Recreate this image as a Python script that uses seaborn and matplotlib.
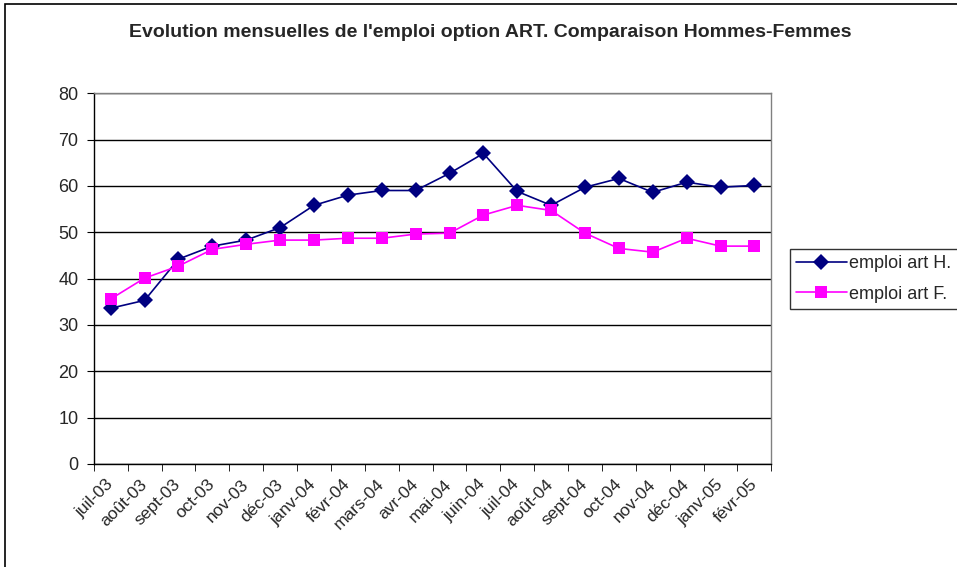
import matplotlib
matplotlib.use("Agg")
import matplotlib.pyplot as plt
import matplotlib.transforms as mtransforms
import seaborn as sns
import pandas as pd
from matplotlib.patches import Rectangle

# Monthly values
months = ['juil-03', 'août-03', 'sept-03', 'oct-03', 'nov-03', 'déc-03',
          'janv-04', 'févr-04', 'mars-04', 'avr-04', 'mai-04', 'juin-04',
          'juil-04', 'août-04', 'sept-04', 'oct-04', 'nov-04', 'déc-04',
          'janv-05', 'févr-05']
hommes = [33.6, 35.3, 44.2, 47.0, 48.3, 51.0, 55.8, 58.0, 59.0, 59.0,
          62.7, 67.0, 58.8, 55.8, 59.7, 61.6, 58.6, 60.8, 59.7, 60.1]
femmes = [35.6, 40.1, 42.7, 46.3, 47.4, 48.3, 48.3, 48.7, 48.7, 49.6,
          49.8, 53.7, 55.8, 54.7, 49.8, 46.5, 45.7, 48.7, 47.0, 47.0]
series_names = ['emploi art H.', 'emploi art F.']

df = pd.DataFrame({'mois': months, series_names[0]: hommes, series_names[1]: femmes})
df['pos'] = range(len(months))
long = df.melt(id_vars=['mois', 'pos'], var_name='serie', value_name='valeur')

sns.set_style('white')
plt.rcParams['font.family'] = ['Liberation Sans', 'DejaVu Sans']

fig = plt.figure(figsize=(9.57, 5.67), dpi=100)
ax = fig.add_axes([0.098, 0.1817, 0.708, 0.654])

sns.lineplot(data=long, x='pos', y='valeur', hue='serie', style='serie',
             palette={series_names[0]: '#000080', series_names[1]: '#FF00FF'},
             markers={series_names[0]: 'D', series_names[1]: 's'},
             dashes=False, markersize=8, linewidth=1.2,
             markeredgewidth=0, ax=ax, legend=True)

ax.set_xlim(-0.5, len(months) - 0.5)
ax.set_ylim(0, 80)
ax.set_yticks(range(0, 81, 10))
ax.set_xticks(list(range(len(months))))
ax.set_xticklabels(months, rotation=45, ha='right', va='center',
                   rotation_mode='anchor', fontsize=12.5)
shift = mtransforms.ScaledTranslation(-13 / 100, 0, fig.dpi_scale_trans)
for lab in ax.get_xticklabels():
    lab.set_transform(lab.get_transform() + shift)
ax.tick_params(axis='x', length=0, pad=13)
ax.tick_params(axis='y', labelsize=13, length=5, direction='out', left=True,
               color='black', pad=6)
# tick marks between categories
ax.set_xticks([i + 0.5 for i in range(-1, len(months))], minor=True)
ax.tick_params(axis='x', which='minor', length=5, direction='out', bottom=True, color='black')
ax.set_xlabel('')
ax.set_ylabel('')
ax.grid(axis='y', color='black', linewidth=1)
ax.set_axisbelow(True)
for side in ['top', 'right']:
    ax.spines[side].set_color('#808080')
for side in ['left', 'bottom']:
    ax.spines[side].set_color('black')
for s in ax.spines.values():
    s.set_linewidth(1)
    s.set_visible(True)

leg = ax.legend(loc='upper left', bbox_to_anchor=(1.027, 0.58), frameon=True,
                fancybox=False, edgecolor='black', fontsize=13, borderpad=0.35,
                handlelength=2.8, handletextpad=0.15, labelspacing=0.75,
                borderaxespad=0)
leg.get_frame().set_linewidth(1)

fig.text(0.512, 0.943, "Evolution mensuelles de l'emploi option ART. Comparaison Hommes-Femmes",
         ha='center', va='center', fontsize=14, fontweight='bold')

fig.patches.append(Rectangle((5 / 957, -0.05), 1.1, 1 - 4 / 567 + 0.05,
                             transform=fig.transFigure, fill=False,
                             edgecolor='black', linewidth=1.2))

fig.savefig('out.png', dpi=100)
